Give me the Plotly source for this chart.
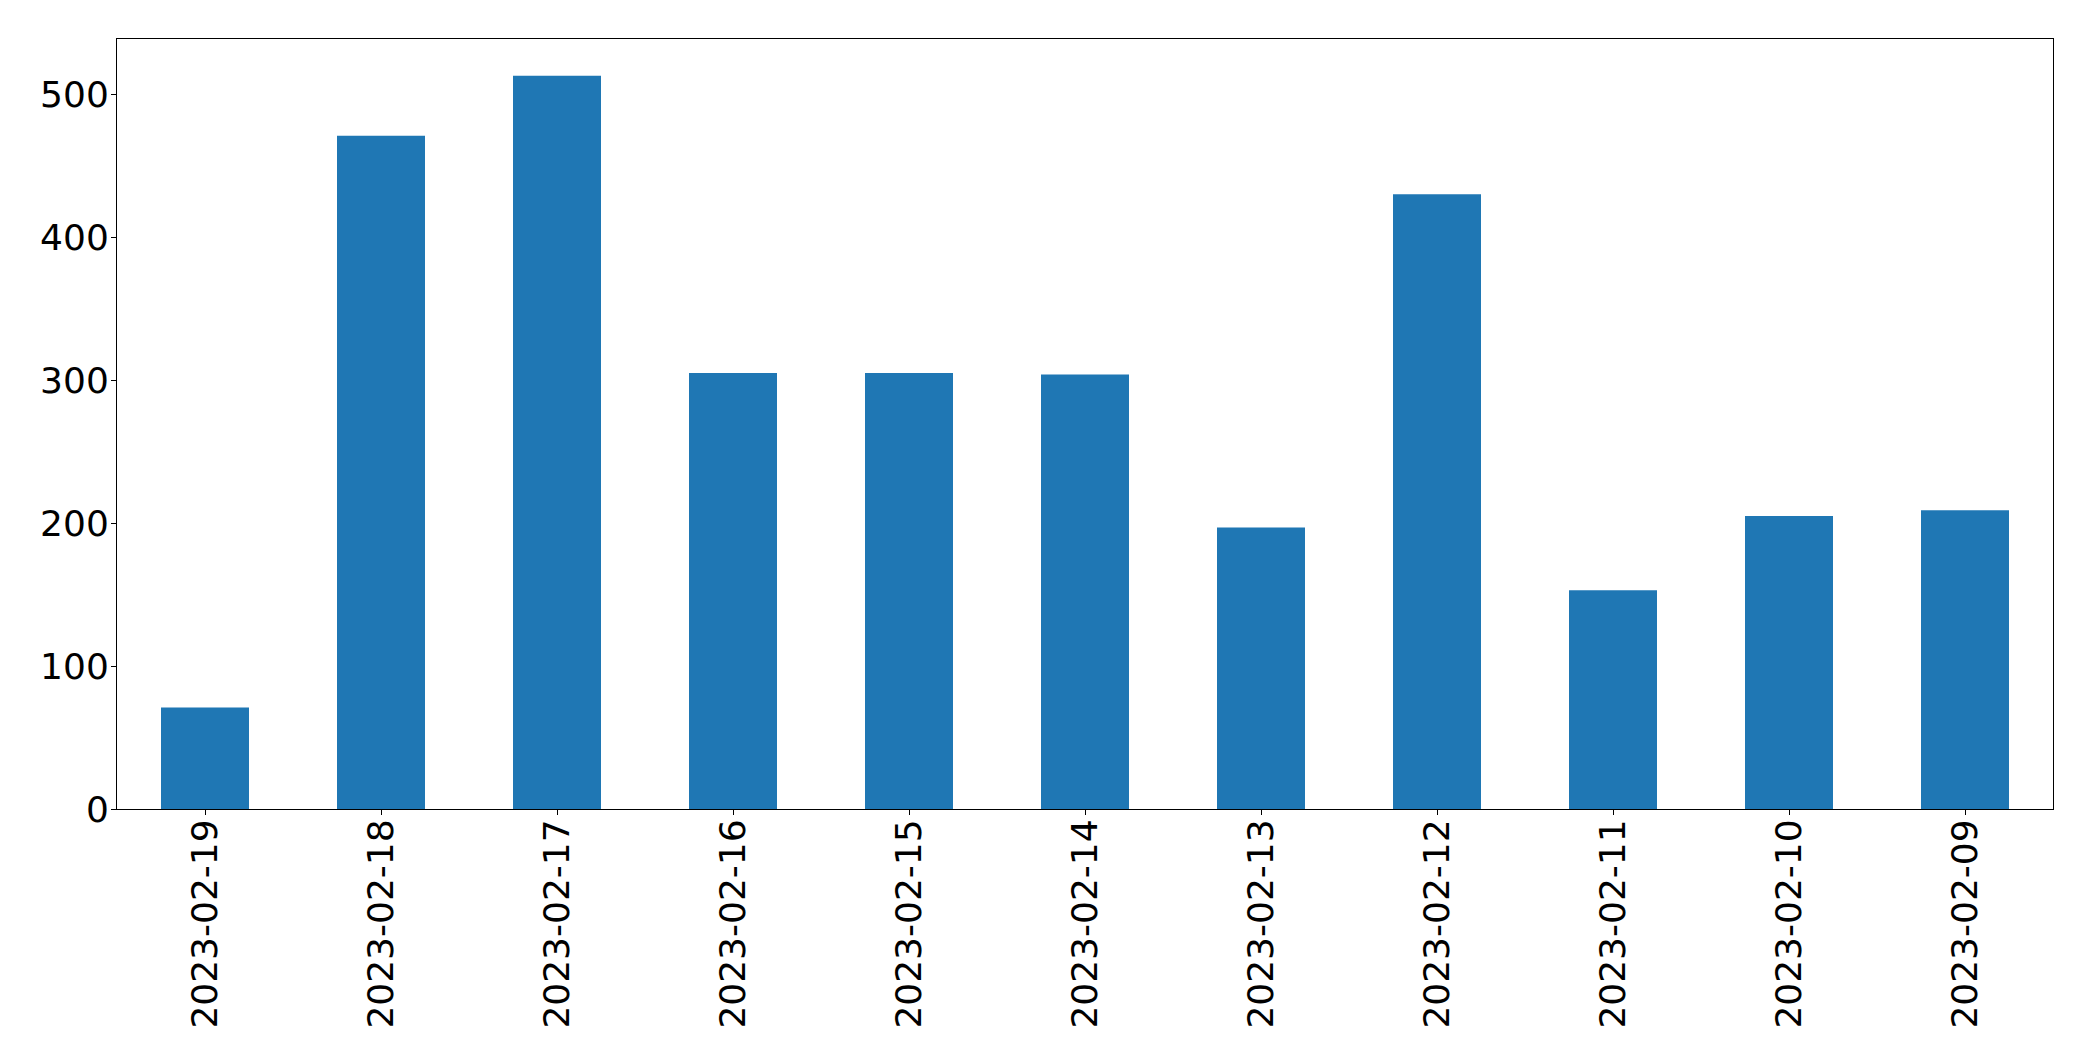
import plotly.graph_objects as go

dates = ["2023-02-19", "2023-02-18", "2023-02-17", "2023-02-16", "2023-02-15",
         "2023-02-14", "2023-02-13", "2023-02-12", "2023-02-11", "2023-02-10", "2023-02-09"]
values = [71, 471, 513, 305, 305, 304, 197, 430, 153, 205, 209]
y_ticks = [0, 100, 200, 300, 400, 500]

fig = go.Figure()
fig.add_trace(go.Bar(
    x=list(range(len(dates))), y=values, width=0.5,
    marker=dict(color="#1f77b4", line=dict(width=0)),
))

font = dict(family="DejaVu Sans", size=36, color="black")
fig.update_layout(
    width=2085, height=1053,
    margin=dict(l=109, r=40, t=31, b=252),
    plot_bgcolor="white", paper_bgcolor="white",
    showlegend=False,
    font=font,
)
fig.update_xaxes(
    range=[-0.5, len(dates) - 0.5],
    tickmode="array", tickvals=list(range(len(dates))), ticktext=dates,
    tickangle=-90, ticks="outside", ticklen=5, tickwidth=1, tickcolor="black",
    ticklabelstandoff=-10,
    showline=True, linecolor="black", linewidth=1, mirror=True,
    showgrid=False, zeroline=False, tickfont=font,
)
fig.update_yaxes(
    range=[0, max(values) * 1.05],
    tickmode="array", tickvals=y_ticks, ticktext=[str(t) for t in y_ticks],
    ticks="outside", ticklen=5, tickwidth=1, tickcolor="black",
    ticklabelstandoff=-5,
    showline=True, linecolor="black", linewidth=1, mirror=True,
    showgrid=False, zeroline=False, tickfont=font,
)
fig.write_html("out.html")
